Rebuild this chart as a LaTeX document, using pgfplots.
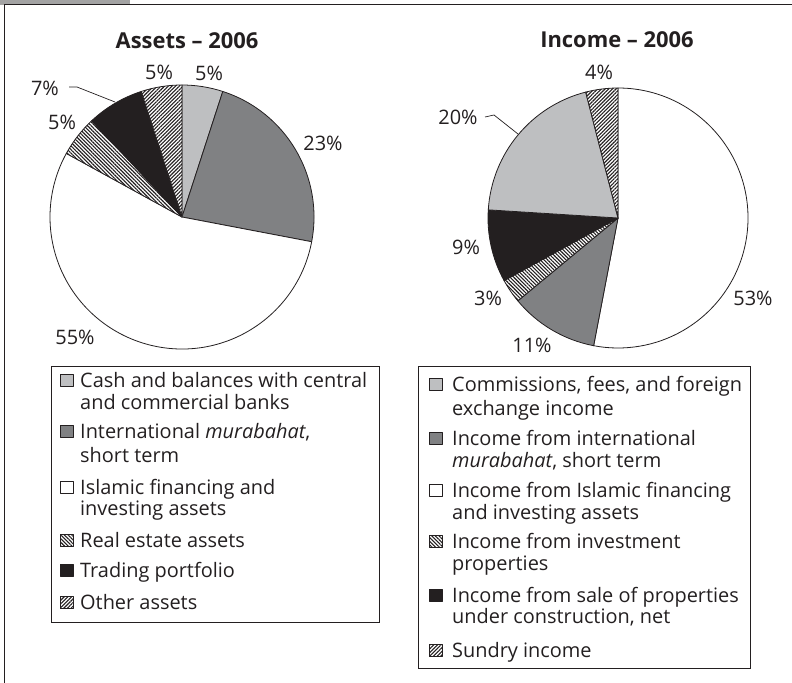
\documentclass[border=0pt]{standalone}
\usepackage{pgfplots}
\pgfplotsset{compat=1.18}
\usepackage{pgfplotstable}
\usepackage{fontspec}
\setmainfont{Open Sans}
\usetikzlibrary{patterns.meta}

\definecolor{ink}{RGB}{35,31,32}
\definecolor{lightgr}{RGB}{190,191,193}
\definecolor{darkgr}{RGB}{128,129,131}
\definecolor{tabgr}{RGB}{163,163,163}

% shares in percent, clockwise from the top of each pie
\pgfplotstableread{
slice value
cash 5
intl 23
islamic 55
realestate 5
trading 7
other 5
}\assetdata

\pgfplotstableread{
slice value
islamic 53
intl 11
invprop 3
sale 9
commissions 20
sundry 4
}\incomedata

% start/end angle of every slice -> \<prefix>s<row>, \<prefix>e<row>
\newcommand\pieangles[2]{%
  \gdef\cum{0}%
  \pgfplotstableforeachcolumnelement{value}\of#1\as\v{%
    \pgfmathsetmacro\st{90-3.6*\cum}%
    \pgfmathsetmacro\newcum{\cum+\v}%
    \global\let\cum\newcum
    \pgfmathsetmacro\en{90-3.6*\cum}%
    \expandafter\xdef\csname #2s\pgfplotstablerow\endcsname{\st}%
    \expandafter\xdef\csname #2e\pgfplotstablerow\endcsname{\en}%
  }%
}
\pieangles{\assetdata}{A}
\pieangles{\incomedata}{I}

\tikzset{
  pie/.style={draw=ink, line width=0.8pt, line join=round},
  s-light/.style={pie, fill=lightgr},
  s-dark/.style={pie, fill=darkgr},
  s-white/.style={pie, fill=white},
  s-black/.style={pie, fill=ink},
  s-nw/.style={pie, preaction={fill=white}, pattern={Lines[angle=-45,distance=2.6pt,line width=1.1pt]}, pattern color=ink},
  s-ne/.style={pie, preaction={fill=white}, pattern={Lines[angle=45,distance=2.6pt,line width=1.1pt]}, pattern color=ink},
  A0/.style={s-light}, A1/.style={s-dark}, A2/.style={s-white},
  A3/.style={s-nw}, A4/.style={s-black}, A5/.style={s-ne},
  I0/.style={s-white}, I1/.style={s-dark}, I2/.style={s-nw},
  I3/.style={s-black}, I4/.style={s-light}, I5/.style={s-ne},
  pct/.style={font=\fontsize{20}{24}\selectfont, text=ink, inner sep=0},
  ttl/.style={font=\fontsize{22}{26}\selectfont\bfseries, text=ink, inner sep=0, anchor=base},
  leg/.style={font=\fontsize{20}{24}\selectfont, text=ink, inner sep=0, anchor=base west},
}

\newcommand\legicon[3]{% style, x, baseline
  \path[#1, line width=0.6pt] (#2,#3-1) rectangle ++(13,-12);}

\begin{document}
\begin{tikzpicture}[x=1bp, y=-1bp]
\useasboundingbox (0,0) rectangle (792,683);

% frame
\fill[tabgr] (0,0) rectangle (130,5.5);
\draw[ink, line width=1pt] (4,5) -- (792,5);
\draw[ink, line width=1pt] (4,5) -- (4,683);

% Assets pie
\begin{axis}[at={(182bp,-217bp)}, anchor=origin, hide axis, x=1bp, y=1bp,
  xmin=-150, xmax=150, ymin=-150, ymax=150, clip=false]
\pgfplotsinvokeforeach{0,...,5}{
  \path[A#1] (axis cs:0,0) -- ++({\csname As#1\endcsname}:132bp)
    arc[start angle={\csname As#1\endcsname}, end angle={\csname Ae#1\endcsname}, radius=132bp] -- cycle;
}
\end{axis}

% Income pie
\begin{axis}[at={(618bp,-218bp)}, anchor=origin, hide axis, x=1bp, y=1bp,
  xmin=-150, xmax=150, ymin=-150, ymax=150, clip=false]
\pgfplotsinvokeforeach{0,...,5}{
  \path[I#1] (axis cs:0,0) -- ++({\csname Is#1\endcsname}:130bp)
    arc[start angle={\csname Is#1\endcsname}, end angle={\csname Ie#1\endcsname}, radius=130bp] -- cycle;
}
\end{axis}

% titles
\node[ttl] at (187,49) {Assets – 2006};
\node[ttl] at (617,48) {Income – 2006};

% slice labels
\node[pct] at (159,72) {5\%};
\node[pct] at (209,73) {5\%};
\node[pct] at (45,88) {7\%};
\node[pct] at (62,122) {5\%};
\node[pct] at (323,143) {23\%};
\node[pct] at (75,337) {55\%};
\draw[ink, line width=0.7pt] (69,87) -- (77,87) -- (115,102);

\node[pct] at (599,72) {4\%};
\node[pct] at (458,117) {20\%};
\node[pct] at (466,247) {9\%};
\node[pct] at (488,298) {3\%};
\node[pct] at (532,345) {11\%};
\node[pct] at (753,298) {53\%};
\draw[ink, line width=0.7pt] (485,117) -- (494,115) -- (518,134);

% Assets legend
\draw[ink, line width=0.8pt] (51,366) rectangle (379,622);
\legicon{s-light}{60}{387}
\node[leg] at (80,387) {Cash and balances with central};
\node[leg] at (80,409) {and commercial banks};
\legicon{s-dark}{60}{438}
\node[leg] at (80,438) {International \emph{murabahat},};
\node[leg] at (80,462) {short term};
\legicon{s-white}{60}{494}
\node[leg] at (80,494) {Islamic financing and};
\node[leg] at (80,515) {investing assets};
\legicon{s-nw}{60}{547}
\node[leg] at (80,547) {Real estate assets};
\legicon{s-black}{60}{577}
\node[leg] at (80,577) {Trading portfolio};
\legicon{s-ne}{60}{609}
\node[leg] at (80,609) {Other assets};

% Income legend
\draw[ink, line width=0.8pt] (418,366) rectangle (750,668);
\legicon{s-light}{429}{391}
\node[leg] at (452,391) {Commissions, fees, and foreign};
\node[leg] at (452,415) {exchange income};
\legicon{s-dark}{429}{445}
\node[leg] at (452,445) {Income from international};
\node[leg] at (452,467) {\emph{murabahat}, short term};
\legicon{s-white}{429}{497}
\node[leg] at (452,497) {Income from Islamic financing};
\node[leg] at (452,519) {and investing assets};
\legicon{s-nw}{429}{548}
\node[leg] at (452,548) {Income from investment};
\node[leg] at (452,570) {properties};
\legicon{s-black}{429}{602}
\node[leg] at (452,602) {Income from sale of properties};
\node[leg] at (452,623) {under construction, net};
\legicon{s-ne}{429}{657}
\node[leg] at (452,657) {Sundry income};
\end{tikzpicture}
\end{document}
